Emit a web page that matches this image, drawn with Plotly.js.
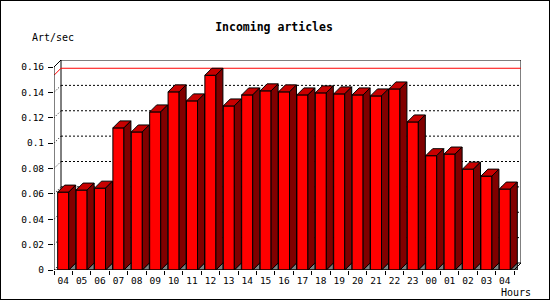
<!DOCTYPE html>
<html>
<head>
<meta charset="utf-8">
<script src="https://cdn.plot.ly/plotly-3.0.1.min.js"></script>
<style>
  html, body { margin: 0; padding: 0; background: #fff; }
  #wrap { position: relative; width: 550px; height: 300px; }
  #chart { width: 550px; height: 300px; }
  #frame { position: absolute; left: 0; top: 0; width: 550px; height: 300px;
           box-sizing: border-box; border: 1px solid #000; pointer-events: none; }
</style>
</head>
<body>
<div id="wrap"><div id="chart"></div><div id="frame"></div></div>
<script>
// ---- data ----
const hours = ["04","05","06","07","08","09","10","11","12","13","14","15","16",
               "17","18","19","20","21","22","23","00","01","02","03","04"];
const artPerSec = [0.0614,0.0630,0.0645,0.1120,0.1088,0.1246,0.1404,0.1333,0.1535,
                   0.1293,0.1380,0.1412,0.1404,0.1380,0.1396,0.1388,0.1380,0.1372,
                   0.1427,0.1167,0.0901,0.0914,0.0795,0.0740,0.0638];
const yTickVals = [0, 0.02, 0.04, 0.06, 0.08, 0.1, 0.12, 0.14, 0.16];
const yTickText = ["0","0.02","0.04","0.06","0.08","0.1","0.12","0.14","0.16"];

// ---- geometry ----
const W = 550, H = 300;
const M = {l: 54, r: 29, t: 60, b: 30};
const plotW = W - M.l - M.r, plotH = H - M.t - M.b;
const D = 7;                       // 3D depth in pixels
const n = hours.length;
const catPx = (plotW - D) / n;
const xMin = -0.5, xFront = n - 0.5, xMax = xMin + plotW / catPx;
const yFront = yTickVals[yTickVals.length - 1];
const pxPerUnit = (plotH - D) / yFront;
const yMax = plotH / pxPerUnit;
const dx = D / catPx, dy = D / pxPerUnit;
const hw = 0.3;
const xs = hours.map((h, i) => i);

const FRONT = '#ff0000', TOP = '#c80000', SIDE = '#800000', FLOOR = '#808080';

const traces = [];
traces.push({
  type: 'bar', x: xs, y: artPerSec, width: 2 * hw,
  marker: {color: FRONT, line: {color: '#000', width: 1}},
  hoverinfo: 'skip', showlegend: false
});
function poly(px, py, fill) {
  traces.push({
    type: 'scatter', mode: 'lines', x: px, y: py, fill: 'toself',
    fillcolor: fill, line: {color: '#000', width: 1},
    hoverinfo: 'skip', showlegend: false
  });
}
xs.forEach((x, i) => {
  const v = artPerSec[i];
  const a = x - hw, b = x + hw;
  poly([b, b + dx, b + dx, b], [0, 0, dy, 0], FLOOR);
  poly([a, b, b + dx, a + dx, a], [v, v, v + dy, v + dy, v], TOP);
  poly([b, b + dx, b + dx, b, b], [v, v + dy, dy, 0, v], SIDE);
});

const shapes = [];
function line(x0, y0, x1, y1, color, dash, layer) {
  shapes.push({type: 'line', xref: 'x', yref: 'y', x0, y0, x1, y1, layer: layer || 'below',
               line: {color: color, width: 1, dash: dash || 'solid'}});
}
// back wall
shapes.push({type: 'rect', xref: 'x', yref: 'y', x0: xMin + dx, y0: dy, x1: xMax, y1: yMax,
             layer: 'below', fillcolor: '#fff', line: {color: '#000', width: 1}});
// gridlines on back wall + diagonals
yTickVals.forEach((v, k) => {
  if (k < yTickVals.length - 1) {
    if (v > 0) line(xMin + dx, v + dy, xMax, v + dy, '#000', '2px,2px');
    line(xMin, v, xMin + dx, v + dy, '#000', '1px,2px');
  }
});
// max line
const maxV = Math.max(...artPerSec);
line(xMin + dx, maxV + dy, xMax, maxV + dy, '#ff0000');
line(xMin, maxV, xMin + dx, maxV + dy, '#ff0000');
// front axes
line(xMin, 0, xFront, 0, '#000', 'solid', 'above');
line(xFront, 0, xFront + dx, dy, '#000', 'solid', 'above');
line(xMin, 0, xMin, yFront, '#000', 'solid', 'above');
line(xMin, yFront, xMin + dx, yFront + dy, '#000', 'solid', 'above');

const font = {family: 'DejaVu Sans Mono', size: 9.5, color: '#000'};
const pxX = px => (px - M.l) / plotW;
const pxY = py => (H - M.b - py) / plotH;

const layout = {
  width: W, height: H, margin: M,
  paper_bgcolor: '#fff', plot_bgcolor: 'rgba(0,0,0,0)',
  showlegend: false, font: font,
  title: {text: 'Incoming articles', xref: 'container', yref: 'container',
          x: 274 / W, y: 1 - 26.7 / H, xanchor: 'center', yanchor: 'middle',
          font: {family: 'DejaVu Sans Mono', size: 11.5, color: '#000', weight: 'bold'}},
  xaxis: {range: [xMin, xMax], showgrid: false, zeroline: false, showline: false,
          tickmode: 'array', tickvals: xs, ticktext: hours, ticks: '',
          tickfont: font, fixedrange: true, ticklabelstandoff: 3,
          minor: {tickmode: 'linear', tick0: -0.5, dtick: 1, ticks: 'outside',
                  ticklen: 4, tickcolor: '#000', tickwidth: 1, showgrid: false}},
  yaxis: {range: [0, yMax], showgrid: false, zeroline: false, showline: false,
          tickmode: 'array', tickvals: yTickVals, ticktext: yTickText,
          ticks: 'outside', ticklen: 5, tickcolor: '#000', tickwidth: 1,
          tickfont: font, fixedrange: true, ticklabelstandoff: 2},
  shapes: shapes,
  annotations: [
    {text: 'Art/sec', xref: 'paper', yref: 'paper', x: pxX(30), y: pxY(37.7),
     xanchor: 'left', yanchor: 'middle', showarrow: false, font: {...font, size: 10}},
    {text: 'Hours', xref: 'paper', yref: 'paper', x: pxX(533), y: pxY(292.7),
     xanchor: 'right', yanchor: 'middle', showarrow: false, font: {...font, size: 10}}
  ],
  bargap: 0
};

Plotly.newPlot('chart', traces, layout, {staticPlot: true, displayModeBar: false});
</script>
</body>
</html>
